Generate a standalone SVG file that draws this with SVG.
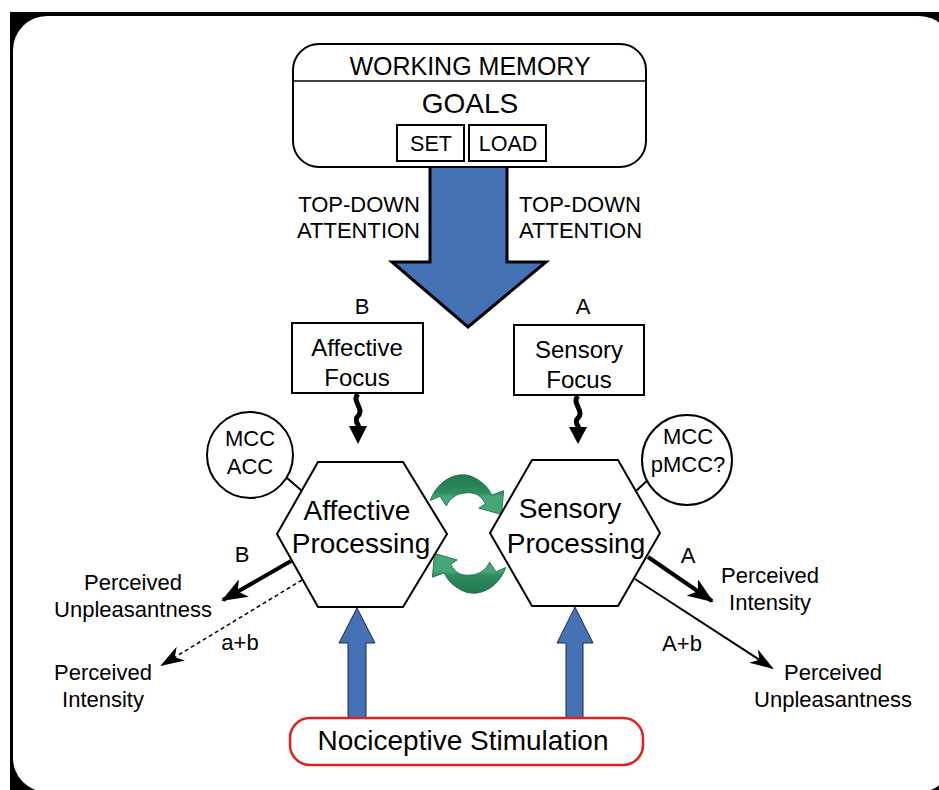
<svg xmlns="http://www.w3.org/2000/svg" width="939" height="790" viewBox="0 0 939 790">
<defs>
<style>
text{font-family:"Liberation Sans",Arial,sans-serif;fill:#000;text-anchor:middle}
.box{fill:#fff;stroke:#000;stroke-width:2}
.hex{fill:#fff;stroke:#000;stroke-width:2}
.blue{fill:#4472b4;stroke:#1a2a4a;stroke-width:1}
.green{fill:url(#gr);stroke:#1d6b45;stroke-width:0.8}
.lbl{font-size:22px}
</style>
<linearGradient id="gr" x1="0" y1="0" x2="0" y2="1">
<stop offset="0" stop-color="#1f7a4f"/>
<stop offset="0.45" stop-color="#2f8c5f"/>
<stop offset="0.55" stop-color="#45a676"/>
<stop offset="1" stop-color="#45a676"/>
</linearGradient>
<marker id="ahThick" viewBox="0 0 26 20" refX="24" refY="10" markerWidth="26" markerHeight="20" markerUnits="userSpaceOnUse" orient="auto">
<path d="M0,0 L26,10 L0,20 L7,10 z" fill="#000"/>
</marker>
<marker id="ahThin" viewBox="0 0 24 16" refX="22" refY="8" markerWidth="24" markerHeight="16" markerUnits="userSpaceOnUse" orient="auto">
<path d="M0,0 L24,8 L0,16 L7,8 z" fill="#000"/>
</marker>
</defs>
<rect x="10" y="12" width="940" height="790" fill="#000"/>
<rect x="13" y="16" width="940" height="776" rx="34" fill="#fff"/>

<g id="connectors">
<path id="topdown" d="M430,166 L430,262 L392,262 L468,327 L546,262 L507,262 L507,166" fill="#4472b4" stroke="#000" stroke-width="3" stroke-linejoin="miter"/>
<path d="M358,394 C351,401 365,409 358,416 C352,422 363,427 358,431" fill="none" stroke="#000" stroke-width="5"/>
<polygon points="349,426 367,426 358,444" fill="#000"/>
<path d="M578,396 C571,403 585,411 578,418 C572,424 583,428 578,432" fill="none" stroke="#000" stroke-width="5"/>
<polygon points="569,427 587,427 578,444" fill="#000"/>
<line x1="287" y1="478" x2="302" y2="491" stroke="#000" stroke-width="2"/>
<line x1="650" y1="478" x2="636" y2="491" stroke="#000" stroke-width="2"/>
<g transform="translate(468 534) scale(1.08) translate(-468 -534)">
<path class="green" d="M433,503 C440,484 458,475 472,481 C481,485 487,491 490,498 L501,494 L499,516 L478,510 L484,506 C480,498 474,495 466,496 C458,496 451,501 448,508 L442,499 Z"/>
<path class="green" transform="rotate(180 468 534)" d="M433,503 C440,484 458,475 472,481 C481,485 487,491 490,498 L501,494 L499,516 L478,510 L484,506 C480,498 474,495 466,496 C458,496 451,501 448,508 L442,499 Z"/>
</g>
<line x1="291" y1="561" x2="223" y2="600" stroke="#000" stroke-width="4" marker-end="url(#ahThick)"/>
<line x1="302" y1="580" x2="162" y2="665" stroke="#000" stroke-width="1.5" stroke-dasharray="4,3" marker-end="url(#ahThin)"/>
<line x1="648" y1="557" x2="712" y2="601" stroke="#000" stroke-width="4" marker-end="url(#ahThick)"/>
<line x1="635" y1="579" x2="772" y2="668" stroke="#000" stroke-width="2" marker-end="url(#ahThin)"/>
<polygon class="blue" points="348,718 348,643 339,643 357,608 375,643 366,643 366,718"/>
<polygon class="blue" points="566,718 566,643 557,643 575,607 593,643 583,643 583,718"/>
</g>

<g id="working-memory">
<rect x="293" y="44" width="353" height="123" rx="26" class="box" stroke-width="2.5"/>
<line x1="293" y1="81" x2="646" y2="81" stroke="#000" stroke-width="1.5"/>
<text x="470" y="75" font-size="25">WORKING MEMORY</text>
<text x="470" y="113" font-size="28">GOALS</text>
<g id="set"><rect x="397" y="125" width="67" height="36" class="box"/><text x="431" y="151" font-size="21.5">SET</text></g>
<g id="load"><rect x="469" y="125" width="77" height="36" class="box"/><text x="508" y="151" font-size="21.5">LOAD</text></g>
</g>

<g id="labels-attention">
<text x="420" y="212" font-size="22" style="text-anchor:end">TOP-DOWN</text>
<text x="420" y="238" font-size="22" style="text-anchor:end">ATTENTION</text>
<text x="519" y="212" font-size="22" style="text-anchor:start">TOP-DOWN</text>
<text x="519" y="238" font-size="22" style="text-anchor:start">ATTENTION</text>
<text x="362" y="314" class="lbl">B</text>
<text x="583" y="314" class="lbl">A</text>
</g>

<g id="affective-focus">
<rect x="292" y="323" width="131" height="70" class="box"/>
<text x="357" y="356" font-size="24">Affective</text>
<text x="357" y="386" font-size="24">Focus</text>
</g>
<g id="sensory-focus">
<rect x="514" y="325" width="130" height="70" class="box"/>
<text x="579" y="358" font-size="24">Sensory</text>
<text x="579" y="388" font-size="24">Focus</text>
</g>

<g id="mcc-acc">
<circle cx="250" cy="455" r="43" class="box"/>
<text x="250" y="446" font-size="22">MCC</text>
<text x="250" y="474" font-size="22">ACC</text>
</g>
<g id="mcc-pmcc">
<circle cx="687" cy="460" r="45" class="box"/>
<text x="688" y="444" font-size="22">MCC</text>
<text x="688" y="472" font-size="22">pMCC?</text>
</g>

<g id="affective-processing">
<polygon class="hex" points="318,462 403,462 447,534 403,607 318,607 277,534"/>
<text x="357" y="520" font-size="28">Affective</text>
<text x="361" y="553" font-size="28">Processing</text>
</g>
<g id="sensory-processing">
<polygon class="hex" points="532,460 618,460 660,533 618,606 532,606 490,533"/>
<text x="570" y="518" font-size="28">Sensory</text>
<text x="576" y="553" font-size="28">Processing</text>
</g>

<g id="outputs">
<text x="242" y="562" class="lbl">B</text>
<text x="133" y="590" class="lbl">Perceived</text>
<text x="133" y="617" class="lbl">Unpleasantness</text>
<text x="240" y="650" class="lbl">a+b</text>
<text x="103" y="680" class="lbl">Perceived</text>
<text x="103" y="707" class="lbl">Intensity</text>
<text x="688" y="563" class="lbl">A</text>
<text x="770" y="583" class="lbl">Perceived</text>
<text x="770" y="610" class="lbl">Intensity</text>
<text x="682" y="651" class="lbl">A+b</text>
<text x="833" y="680" class="lbl">Perceived</text>
<text x="833" y="707" class="lbl">Unpleasantness</text>
</g>

<g id="nociceptive">
<rect x="290" y="718" width="353" height="47" rx="20" fill="#fff" stroke="#e0201c" stroke-width="2.5"/>
<text x="463" y="750" font-size="28">Nociceptive Stimulation</text>
</g>
</svg>
